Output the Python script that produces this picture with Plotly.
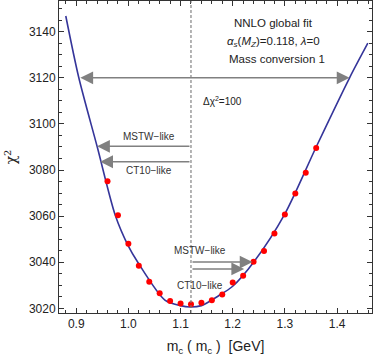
import plotly.graph_objects as go

# Data points (red dots)
mc_points = [0.96, 0.98, 1.00, 1.02, 1.04, 1.06, 1.08, 1.10, 1.12, 1.14, 1.16,
             1.18, 1.20, 1.22, 1.24, 1.26, 1.28, 1.30, 1.32, 1.34, 1.36]
chi2_points = [3075.1, 3060.4, 3048.0, 3038.5, 3031.6, 3026.6, 3023.2, 3022.1,
               3021.8, 3022.4, 3023.5, 3026.0, 3031.2, 3034.2, 3040.2, 3044.9,
               3052.5, 3060.7, 3069.8, 3078.8, 3089.6]

# Fit curve
mc_curve = [0.880, 0.905, 0.940, 0.975, 1.000, 1.018, 1.070, 1.100, 1.118,
            1.140, 1.173, 1.200, 1.240, 1.300, 1.360, 1.424, 1.459]
chi2_curve = [3146.8, 3120.0, 3090.3, 3060.3, 3047.0, 3040.0, 3023.6, 3021.2,
              3020.6, 3021.2, 3025.5, 3029.6, 3040.0, 3061.0, 3090.0, 3120.0, 3135.0]

mc_best = 1.12

# Arrows: (tail x, head x, y, label)
arrow_tail = [1.12, 1.12, 1.12, 1.12]
arrow_head = [0.940, 0.946, 1.238, 1.222]
arrow_y = [3090.3, 3083.6, 3040.1, 3037.1]
arrow_labels = ["MSTW\u2212like", "CT10\u2212like", "MSTW\u2212like", "CT10\u2212like"]
label_x = [1.040, 1.040, 1.138, 1.138]
label_y = [3094.5, 3079.8, 3044.9, 3029.8]

range_lo, range_hi, range_y = 0.905, 1.424, 3120.0

fig = go.Figure()

fig.add_trace(go.Scatter(x=mc_curve, y=chi2_curve, mode="lines",
                         line=dict(color="#35359a", width=1.6, shape="spline", smoothing=0.8),
                         hoverinfo="skip", showlegend=False))
fig.add_trace(go.Scatter(x=mc_points, y=chi2_points, mode="markers",
                         marker=dict(color="#ff0000", size=6),
                         showlegend=False))

fig.add_shape(type="line", x0=mc_best, x1=mc_best, y0=0, y1=1, xref="x", yref="paper",
              line=dict(color="#777777", width=1.1, dash="3px,2px"))

gray = "#808080"
fig.add_annotation(x=range_hi, y=range_y, ax=range_lo, ay=range_y, xref="x", yref="y",
                   axref="x", ayref="y", showarrow=True, arrowhead=2, arrowside="end+start",
                   arrowsize=1.6, arrowwidth=1.6, arrowcolor=gray, text="")
for t, h, yy in zip(arrow_tail, arrow_head, arrow_y):
    fig.add_annotation(x=h, y=yy, ax=t, ay=yy, xref="x", yref="y", axref="x", ayref="y",
                       showarrow=True, arrowhead=2, arrowsize=1.6, arrowwidth=1.6,
                       arrowcolor=gray, text="")
for lx, ly, lt in zip(label_x, label_y, arrow_labels):
    fig.add_annotation(x=lx, y=ly, text=lt, showarrow=False, xref="x", yref="y",
                       font=dict(size=10, color="#333333"))

fig.add_annotation(x=1.278, y=3143.8, text="NNLO global fit", showarrow=False,
                   font=dict(size=11.5, color="#222222"))
fig.add_annotation(x=1.278, y=3135.6, text="<i>\u03b1<sub>s</sub></i>(<i>M<sub>Z</sub></i>)=0.118, <i>\u03bb</i>=0",
                   showarrow=False, font=dict(size=11.5, color="#222222"))
fig.add_annotation(x=1.285, y=3128.2, text="Mass conversion 1", showarrow=False,
                   font=dict(size=11.5, color="#222222"))
fig.add_annotation(x=1.18, y=3110.0, text="\u0394\u03c7<sup>2</sup>=100", showarrow=False,
                   font=dict(size=10, color="#222222"))

axis_common = dict(showgrid=False, zeroline=False, showline=True, linecolor="#333333",
                   linewidth=1, mirror="ticks", ticks="inside", ticklen=5, automargin=False,
                   tickcolor="#333333", tickfont=dict(size=12, color="#222222",
                                                     family="Liberation Sans, Arial"))

fig.update_xaxes(range=[0.867, 1.467], dtick=0.1, tick0=0.9, tickformat=".1f",
                 minor=dict(dtick=0.02, ticks="inside", ticklen=3, tickcolor="#333333"),
                 title=dict(text="m<sub>c</sub> ( m<sub>c</sub> )  [GeV]",
                            font=dict(size=14, color="#222222", family="Liberation Sans, Arial"),
                            standoff=10),
                 **axis_common)
fig.update_yaxes(range=[3018.0, 3153.3], dtick=20, tick0=3020,
                 minor=dict(dtick=5, ticks="inside", ticklen=3, tickcolor="#333333"),
                 title=dict(text="\u03c7<sup>2</sup>",
                            font=dict(size=14, color="#222222", family="DejaVu Serif"),
                            standoff=8),
                 **axis_common)

fig.update_layout(width=374, height=364, margin=dict(l=59, r=2, t=1, b=51),
                  paper_bgcolor="white", plot_bgcolor="white",
                  font=dict(family="Liberation Sans, Arial", color="#222222"))

fig.write_html("out.html", config={"displayModeBar": False},
               post_script="document.body.style.margin='0';")
